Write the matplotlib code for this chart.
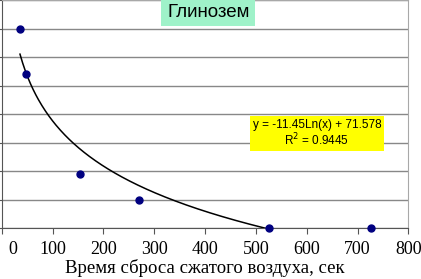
import numpy as np
import matplotlib
matplotlib.use("Agg")
import matplotlib.pyplot as plt
from matplotlib.transforms import ScaledTranslation

# Data
time_sec = [36, 47, 154, 270, 525, 726]
alumina = [35, 27, 9.5, 5, 0, 0]

# Logarithmic trendline y = a*ln(x) + b
trend_a = -11.45
trend_b = 71.578
r_squared = 0.9445

x_ticks = [0, 100, 200, 300, 400, 500, 600, 700, 800]
y_ticks = [0, 5, 10, 15, 20, 25, 30, 35, 40]

fig = plt.figure(figsize=(4.21, 2.79), dpi=100)
ax = fig.add_axes([0.004, 0.182, 0.966, 0.817])

# Trendline over the data range, clipped at the x axis
xt = np.linspace(min(time_sec), max(time_sec), 400)
yt = trend_a * np.log(xt) + trend_b
ax.plot(xt, yt, color="black", linewidth=1.1, zorder=3)

# Data points
ax.plot(time_sec, alumina, "o", color="#000080", markersize=5, zorder=4, clip_on=False)

ax.set_xlim(0, 800)
ax.set_ylim(0, 40)
ax.set_xticks(x_ticks)
ax.set_yticks(y_ticks)
ax.grid(axis="y", color="#888888", linewidth=1)
ax.set_axisbelow(True)

for side in ["left", "bottom"]:
    ax.spines[side].set_color("#555555")
for side in ["right", "top"]:
    ax.spines[side].set_color("#a8a8a8")

ax.tick_params(axis="x", direction="out", length=4, color="#555555", pad=5,
               labelsize=13)
ax.tick_params(axis="y", direction="out", length=3, color="#555555", labelleft=False)
for lab in ax.get_xticklabels():
    lab.set_fontfamily("Liberation Serif")

# Excel pushes the first label inside the chart area
first = ax.get_xticklabels()[0]
first.set_transform(first.get_transform() + ScaledTranslation(0.11, 0, fig.dpi_scale_trans))

ax.set_xlabel("Время сброса сжатого воздуха, сек", fontfamily="Liberation Serif",
              fontsize=13.5, labelpad=1)

# Title box
ax.text(0.508, 0.948, "Глинозем", transform=ax.transAxes, ha="center", va="center",
        fontfamily="Liberation Sans", fontsize=13.5,
        bbox=dict(boxstyle="square,pad=0.3", facecolor="#9ff2c9", edgecolor="none"))

# Equation box
ax.text(0.775, 0.415, "y = -11.45Ln(x) + 71.578\nR$^2$ = 0.9445", transform=ax.transAxes,
        ha="center", va="center", multialignment="center",
        fontfamily="Liberation Sans", fontsize=8.5, linespacing=1.05,
        bbox=dict(boxstyle="square,pad=0.25", facecolor="#ffff00", edgecolor="none"))

fig.savefig("out.png", dpi=100)
